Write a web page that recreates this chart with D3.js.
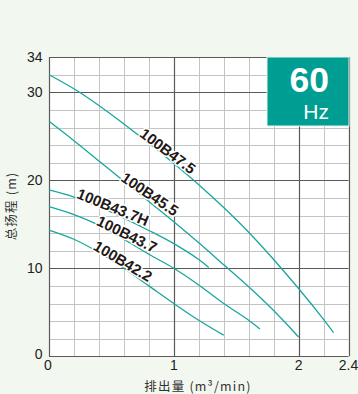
<!DOCTYPE html>
<html><head><meta charset="utf-8">
<script src="https://cdn.jsdelivr.net/npm/d3@7"></script>
<style>
html,body{margin:0;padding:0;background:#f2f8f0;}
svg{display:block;}
</style></head>
<body>
<script>
// ---- data ----
const seriesNames = ["100B47.5","100B45.5","100B43.7H","100B43.7","100B42.2"];
const q47_5 = [0,0.2,0.4,0.6,0.8,1.0,1.2,1.4,1.6,1.8,2.0,2.2,2.28];
const h47_5 = [32.0,30.4,28.5,26.4,24.2,21.9,19.5,16.9,14.1,11.0,7.7,4.2,2.7];
const q45_5 = [0,0.2,0.4,0.6,0.8,1.0,1.2,1.4,1.6,1.8,2.0];
const h45_5 = [26.7,24.5,22.2,19.9,17.6,15.3,12.9,10.4,7.9,5.2,2.2];
const q43_7H = [0,0.2,0.4,0.6,0.8,1.0,1.2,1.28];
const h43_7H = [18.9,18.1,17.0,15.7,14.3,12.8,11.0,10.1];
const q43_7 = [0,0.2,0.4,0.6,0.8,1.0,1.2,1.4,1.6,1.69];
const h43_7 = [17.0,16.1,14.9,13.3,11.6,10.0,8.1,6.0,4.1,3.1];
const q42_2 = [0,0.2,0.4,0.6,0.8,1.0,1.2,1.4];
const h42_2 = [14.35,13.3,11.8,10.0,8.0,6.0,4.1,2.4];
const xTickValues = [0,1,2,2.4];
const xTickLabels = ["0","1","2","2.4"];
const yTickValues = [0,10,20,30,34];
const yTickLabels = ["0","10","20","30","34"];
const xTitle = "排出量 (m³/min)";
const yTitle = "总扬程 (m)";
const badgeTop = "60";
const badgeBottom = "Hz";

const series = [
  {name: seriesNames[0], q: q47_5, h: h47_5},
  {name: seriesNames[1], q: q45_5, h: h45_5},
  {name: seriesNames[2], q: q43_7H, h: h43_7H},
  {name: seriesNames[3], q: q43_7, h: h43_7},
  {name: seriesNames[4], q: q42_2, h: h42_2}
];

// ---- layout ----
const W = 358, H = 394;
const svg = d3.select("body").append("svg").attr("width", W).attr("height", H);
svg.append("rect").attr("width", W).attr("height", H).attr("fill", "#f2f8f0");

const x = d3.scaleLinear().domain([0, 2.4]).range([49, 348.5]);
const y = d3.scaleLinear().domain([0, 34]).range([356.3, 57.1]);

svg.append("rect").attr("x", x(0)).attr("y", y(34))
  .attr("width", x(2.4) - x(0)).attr("height", y(0) - y(34)).attr("fill", "#fff");

const g = svg.append("g");
// minor grid
const minorX = d3.range(0, 2.41, 0.2).map(v => +v.toFixed(1));
const minorY = d3.range(0, 34.1, 2);
g.selectAll(".mx").data(minorX.filter(v => ![0,1,2,2.4].includes(v))).enter().append("line")
  .attr("x1", d => Math.round(x(d)) + 0.5).attr("x2", d => Math.round(x(d)) + 0.5)
  .attr("y1", y(0)).attr("y2", y(34)).attr("stroke", "#c4c4c4").attr("stroke-width", 1);
g.selectAll(".my").data(minorY.filter(v => ![0,10,20,30,34].includes(v))).enter().append("line")
  .attr("y1", d => Math.round(y(d)) + 0.5).attr("y2", d => Math.round(y(d)) + 0.5)
  .attr("x1", x(0)).attr("x2", x(2.4)).attr("stroke", "#c4c4c4").attr("stroke-width", 1);
// major grid
g.selectAll(".Mx").data([0,1,2,2.4]).enter().append("line")
  .attr("x1", d => Math.round(x(d)) + 0.5).attr("x2", d => Math.round(x(d)) + 0.5)
  .attr("y1", y(0)).attr("y2", y(34)).attr("stroke", "#5a5a5a").attr("stroke-width", 1.2);
g.selectAll(".My").data([0,10,20,30,34]).enter().append("line")
  .attr("y1", d => Math.round(y(d)) + 0.5).attr("y2", d => Math.round(y(d)) + 0.5)
  .attr("x1", x(0)).attr("x2", x(2.4)).attr("stroke", "#5a5a5a").attr("stroke-width", 1.2);

// badge
const bx = 267, by = 57, bw = 82, bh = 69;
svg.append("rect").attr("x", bx).attr("y", by).attr("width", bw).attr("height", bh)
  .attr("fill", "#009e92").attr("stroke", "#e8f4f0").attr("stroke-width", 1);
svg.append("text").attr("x", 329).attr("y", 92).attr("text-anchor", "end")
  .attr("font-family", "Liberation Sans, Arial, sans-serif").attr("font-weight", "bold")
  .attr("font-size", 35.5).attr("fill", "#fff").text(badgeTop);
svg.append("text").attr("x", 329).attr("y", 119).attr("text-anchor", "end")
  .attr("font-family", "Liberation Sans, Arial, sans-serif")
  .attr("font-size", 21).attr("fill", "#fff").text(badgeBottom);

// curves
const line = d3.line().x(d => x(d[0])).y(d => y(d[1])).curve(d3.curveCatmullRom.alpha(0.5));
svg.append("g").selectAll("path").data(series).enter().append("path")
  .attr("d", s => line(s.q.map((v, i) => [v, s.h[i]])))
  .attr("fill", "none").attr("stroke", "#17a79c").attr("stroke-width", 1.3);

// curve labels
const labelPlace = {
  "100B47.5": {cx: 168, cy: 151, a: 37},
  "100B45.5": {cx: 150, cy: 194, a: 34},
  "100B43.7H": {cx: 113, cy: 207, a: 22},
  "100B43.7": {cx: 127, cy: 234, a: 26},
  "100B42.2": {cx: 123, cy: 261, a: 31}
};
svg.append("g").selectAll("text").data(series).enter().append("text")
  .attr("transform", s => `translate(${labelPlace[s.name].cx},${labelPlace[s.name].cy}) rotate(${labelPlace[s.name].a})`)
  .attr("text-anchor", "middle").attr("dy", "0.36em")
  .attr("font-family", "Liberation Sans, Arial, sans-serif").attr("font-weight", "bold")
  .attr("font-size", 15).attr("fill", "#231815")
  .attr("stroke", "#fff").attr("stroke-width", 3).attr("paint-order", "stroke")
  .attr("stroke-linejoin", "round")
  .text(s => s.name);

// axes tick labels
const font = "Liberation Sans, Arial, sans-serif";
svg.append("g").selectAll("text").data(xTickValues).enter().append("text")
  .attr("x", (d, i) => i === 0 ? x(d) - 1 : x(d)).attr("y", 370)
  .attr("text-anchor", "middle").attr("font-family", font).attr("font-size", 14)
  .attr("fill", "#222").text((d, i) => xTickLabels[i]);
svg.append("g").selectAll("text").data(yTickValues).enter().append("text")
  .attr("x", 42.5).attr("y", d => y(d)).attr("dy", d => d === 0 ? "0.2em" : "0.36em")
  .attr("text-anchor", "end").attr("font-family", font).attr("font-size", 14)
  .attr("fill", "#222").text((d, i) => yTickLabels[i]);

// axis titles
svg.append("text").attr("x", 198).attr("y", 391)
  .attr("text-anchor", "middle").attr("font-family", "Noto Sans CJK SC, sans-serif")
  .attr("font-size", 12.5).attr("letter-spacing", 1.2).attr("fill", "#333").text(xTitle);
svg.append("text").attr("transform", "translate(16,206) rotate(-90)")
  .attr("text-anchor", "middle").attr("font-family", "Noto Sans CJK SC, sans-serif")
  .attr("font-size", 12.5).attr("letter-spacing", 1.2).attr("fill", "#333").text(yTitle);
</script>
</body></html>
